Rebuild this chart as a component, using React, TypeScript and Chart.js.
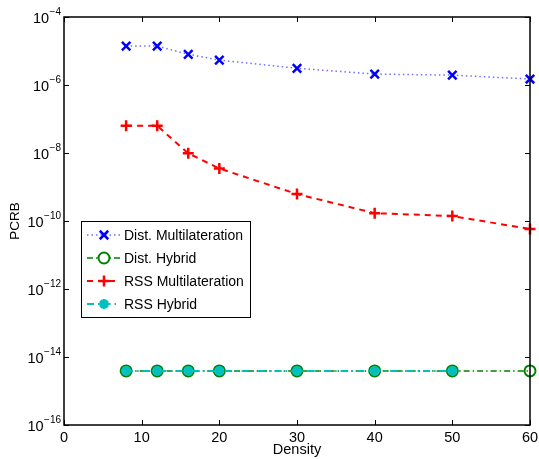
import React, { useEffect, useRef } from 'react';
import { Chart, registerables } from 'chart.js';
import { drawPoint } from 'chart.js/helpers';

Chart.register(...registerables);

const densities = [8, 12, 16, 20, 30, 40, 50, 60];
const distMulti = [1.4e-5, 1.4e-5, 8.0e-6, 5.4e-6, 3.1e-6, 2.1e-6, 1.95e-6, 1.5e-6];
const distHybrid = [3.9e-15, 3.9e-15, 3.9e-15, 3.9e-15, 3.9e-15, 3.9e-15, 3.9e-15, 3.9e-15];
const rssMulti = [6.3e-8, 6.3e-8, 9.8e-9, 3.5e-9, 6.2e-10, 1.7e-10, 1.4e-10, 5.8e-11];
const rssDensities = [8, 12, 16, 20, 30, 40, 50];
const rssHybrid = [3.9e-15, 3.9e-15, 3.9e-15, 3.9e-15, 3.9e-15, 3.9e-15, 3.9e-15];
const xTicks = [0, 10, 20, 30, 40, 50, 60];
const yTickExps = [-16, -14, -12, -10, -8, -6, -4];
const xTitle = 'Density';
const yTitle = 'PCRB';

const FONT = '"Liberation Sans", Arial, sans-serif';

const toPts = (xs: number[], ys: number[]) => xs.map((x, i) => ({ x, y: ys[i] }));

const decorPlugin = {
  id: 'decor',
  afterDatasetsDraw(chart: any) {
    const ctx = chart.ctx as CanvasRenderingContext2D;
    const { left, right, top, bottom } = chart.chartArea;
    const xs = chart.scales.x;
    const ys = chart.scales.y;
    ctx.save();
    ctx.strokeStyle = '#000';
    ctx.lineWidth = 1;
    ctx.setLineDash([]);
    ctx.beginPath();
    xTicks.forEach((t) => {
      const px = Math.round(xs.getPixelForValue(t)) + 0.5;
      ctx.moveTo(px, bottom);
      ctx.lineTo(px, bottom - 5);
      ctx.moveTo(px, top);
      ctx.lineTo(px, top + 5);
    });
    yTickExps.forEach((e) => {
      const py = Math.round(ys.getPixelForValue(Math.pow(10, e))) + 0.5;
      ctx.moveTo(left, py);
      ctx.lineTo(left + 5, py);
      ctx.moveTo(right, py);
      ctx.lineTo(right - 5, py);
    });
    ctx.stroke();
    ctx.lineWidth = 1.5;
    ctx.strokeRect(left, top, right - left, bottom - top);

    ctx.fillStyle = '#000';
    ctx.font = `14.5px ${FONT}`;
    ctx.textAlign = 'center';
    ctx.textBaseline = 'alphabetic';
    xTicks.forEach((t) => {
      const px = xs.getPixelForValue(t);
      ctx.fillText(String(t), px, bottom + 17);
    });
    ctx.fillText(xTitle, (left + right) / 2, bottom + 29);

    yTickExps.forEach((e) => {
      const py = ys.getPixelForValue(Math.pow(10, e));
      ctx.font = `14.5px ${FONT}`;
      const w10 = ctx.measureText('10').width;
      ctx.font = `10px ${FONT}`;
      const sup = '\u2212' + String(Math.abs(e));
      const wsup = ctx.measureText(sup).width;
      const x0 = left - 3.5 - w10 - wsup;
      ctx.textAlign = 'left';
      ctx.font = `14.5px ${FONT}`;
      ctx.fillText('10', x0, py + 6);
      ctx.font = `10px ${FONT}`;
      ctx.fillText(sup, x0 + w10 + 0.5, py - 2);
    });
    ctx.save();
    ctx.translate(19, (top + bottom) / 2);
    ctx.rotate(-Math.PI / 2);
    ctx.textAlign = 'center';
    ctx.font = `13.5px ${FONT}`;
    ctx.fillText(yTitle, 0, 0);
    ctx.restore();
    ctx.restore();
  },
  afterDraw(chart: any) {
    const ctx = chart.ctx as CanvasRenderingContext2D;
    const bx = 81, by = 221, bw = 169, bh = 96;
    ctx.save();
    ctx.fillStyle = '#fff';
    ctx.fillRect(bx, by, bw, bh);
    ctx.strokeStyle = '#000';
    ctx.lineWidth = 1;
    ctx.setLineDash([]);
    ctx.strokeRect(bx + 0.5, by + 0.5, bw, bh);
    const rows = [235, 258, 281, 304];
    chart.data.datasets.forEach((ds: any, i: number) => {
      const y = rows[i];
      ctx.save();
      ctx.strokeStyle = ds.borderColor;
      ctx.lineWidth = ds.borderWidth;
      ctx.setLineDash(ds.borderDash || []);
      ctx.beginPath();
      ctx.moveTo(87, y);
      ctx.lineTo(120, y);
      ctx.stroke();
      ctx.restore();
      ctx.save();
      if (ds.pointStyle === 'circle') {
        ctx.fillStyle = '#fff';
        ctx.beginPath();
        ctx.arc(104, y, ds.pointRadius, 0, Math.PI * 2);
        ctx.fill();
      }
      ctx.strokeStyle = ds.pointBorderColor;
      ctx.fillStyle = ds.pointStyle === 'circle' ? '#fff' : ds.pointBorderColor;
      ctx.lineWidth = ds.pointBorderWidth;
      ctx.setLineDash([]);
      drawPoint(ctx, { pointStyle: ds.pointStyle, radius: ds.pointRadius, rotation: 0, borderWidth: ds.pointBorderWidth } as any, 104, y);
      ctx.restore();
      ctx.fillStyle = '#000';
      ctx.font = `14px ${FONT}`;
      ctx.textAlign = 'left';
      ctx.textBaseline = 'middle';
      ctx.fillText(ds.label, 124, y + 1);
    });
    ctx.restore();
  },
};

export default function App() {
  const ref = useRef<HTMLCanvasElement | null>(null);
  useEffect(() => {
    if (!ref.current) return;
    const chart = new Chart(ref.current, {
      type: 'line',
      data: {
        datasets: [
          {
            label: 'Dist. Multilateration',
            data: toPts(densities, distMulti),
            borderColor: 'rgb(110,110,255)',
            pointBorderColor: 'rgb(0,0,255)',
            borderWidth: 1.5,
            borderDash: [1.5, 3],
            pointStyle: 'crossRot',
            pointRadius: 6,
            pointBorderWidth: 2.5,
            pointBackgroundColor: 'rgba(0,0,0,0)',
            fill: false,
            order: 1,
          } as any,
          {
            label: 'Dist. Hybrid',
            data: toPts(densities, distHybrid),
            borderColor: 'rgb(0,128,0)',
            pointBorderColor: 'rgb(0,128,0)',
            borderWidth: 1.5,
            borderDash: [6, 3, 1.5, 3],
            pointStyle: 'circle',
            pointRadius: 5.5,
            pointBorderWidth: 2,
            pointBackgroundColor: 'rgba(255,255,255,0)',
            fill: false,
            order: 4,
          } as any,
          {
            label: 'RSS Multilateration',
            data: toPts(densities, rssMulti),
            borderColor: 'rgb(255,0,0)',
            pointBorderColor: 'rgb(255,0,0)',
            borderWidth: 2,
            borderDash: [6, 5],
            pointStyle: 'cross',
            pointRadius: 5.5,
            pointBorderWidth: 2.5,
            fill: false,
            order: 2,
          } as any,
          {
            label: 'RSS Hybrid',
            data: toPts(rssDensities, rssHybrid),
            borderColor: 'rgb(0,191,191)',
            pointBorderColor: 'rgb(0,191,191)',
            borderWidth: 2,
            borderDash: [7, 4, 1.5, 4],
            pointStyle: 'star',
            pointRadius: 5,
            pointBorderWidth: 3,
            fill: false,
            order: 3,
          } as any,
        ],
      },
      options: {
        responsive: false,
        animation: false,
        events: [],
        clip: false as any,
        layout: { padding: { top: 17, right: 9, left: 0, bottom: 0 } },
        plugins: { legend: { display: false }, tooltip: { enabled: false } },
        scales: {
          x: {
            type: 'linear',
            min: 0,
            max: 60,
            grid: { display: false },
            border: { display: false },
            ticks: { display: false },
            afterFit: (s: any) => {
              s.height = 34;
            },
          },
          y: {
            type: 'logarithmic',
            min: 1e-16,
            max: 1e-4,
            grid: { display: false },
            border: { display: false },
            ticks: { display: false },
            afterFit: (s: any) => {
              s.width = 64;
            },
          },
        },
      },
      plugins: [decorPlugin],
    });
    return () => chart.destroy();
  }, []);
  return (
    <div style={{ position: 'fixed', left: 0, top: 0, width: 539, height: 459, background: '#fff' }}>
      <canvas ref={ref} width={539} height={459} style={{ width: 539, height: 459, display: 'block' }} />
    </div>
  );
}
